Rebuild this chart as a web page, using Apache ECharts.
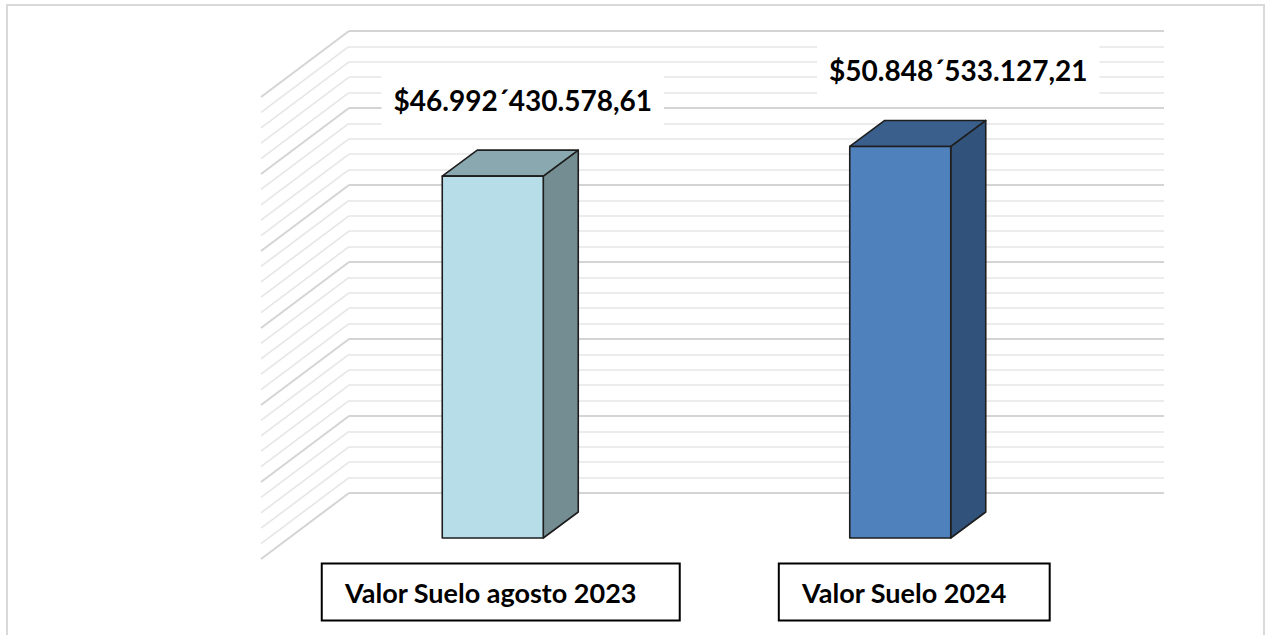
<!DOCTYPE html>
<html>
<head>
<meta charset="utf-8">
<script src="https://cdn.jsdelivr.net/npm/echarts@6/dist/echarts.min.js"></script>
<style>
  html, body { margin: 0; padding: 0; background: #fff; }
  #chart { width: 1272px; height: 635px; }
</style>
</head>
<body>
<div id="chart"></div>
<script>
// datos
const categories = ['Valor Suelo agosto 2023', 'Valor Suelo 2024']
const values = [46992430578.61, 50848533127.21]
const valueLabels = ['$46.992´430.578,61', '$50.848´533.127,21']

// eje (pared del fondo)
const axisMax = 60000000000
const majorStep = 10000000000
const minorSplit = 5

// estilos
const faceColors = [
  { front: '#b7dee8', top: '#8aa8af', side: '#748d92' },
  { front: '#4f81bd', top: '#3b5f8c', side: '#31527a' },
]
const BAR_W = 101
const FRONT = [-60, 45] // desplazamiento de la cara frontal respecto a la pared
const DEPTH = [35, -26] // profundidad de la barra
const WALL_DEPTH = [-88, 66] // pared lateral
const LABEL_SHIFT = [30, 58]
const CAT_SHIFT = [8, 14]
const LABEL_FONT = 'bold 28px Lato'
const CAT_FONT = 'bold 27px Lato'

const chart = echarts.init(document.getElementById('chart'), null, { renderer: 'svg' })

// ticks de la pared lateral
const wallTicks = []
const minorStep = majorStep / minorSplit
for (let t = 0; t <= axisMax; t += minorStep) wallTicks.push([0, t])

const renderWall = (params, api) => {
  const t = api.value(1)
  const y = api.coord([0, t])[1]
  const x = params.coordSys.x
  const major = t % majorStep === 0
  return {
    type: 'line',
    shape: { x1: x, y1: y, x2: x + WALL_DEPTH[0], y2: y + WALL_DEPTH[1] },
    style: { stroke: major ? '#d4d4d4' : '#e6e6e6', lineWidth: major ? 2 : 1.6 },
  }
}

const renderBar = (params, api) => {
  const ci = api.value(0)
  const v = api.value(1)
  const top = api.coord([ci, v])
  const base = api.coord([ci, 0])
  const x0 = top[0] - BAR_W / 2 + FRONT[0]
  const x1 = x0 + BAR_W
  const yT = top[1] + FRONT[1]
  const yB = base[1] + FRONT[1]
  const [dx, dy] = DEPTH
  const c = faceColors[ci]
  const edge = { stroke: '#1e1e1e', lineWidth: 1.6, lineJoin: 'round' }
  return {
    type: 'group',
    children: [
      {
        type: 'polygon',
        shape: { points: [[x1, yT], [x1 + dx, yT + dy], [x1 + dx, yB + dy], [x1, yB]] },
        style: Object.assign({ fill: c.side }, edge),
      },
      {
        type: 'polygon',
        shape: { points: [[x0, yT], [x0 + dx, yT + dy], [x1 + dx, yT + dy], [x1, yT]] },
        style: Object.assign({ fill: c.top }, edge),
      },
      {
        type: 'rect',
        shape: { x: x0, y: yT, width: BAR_W, height: yB - yT },
        style: Object.assign({ fill: c.front }, edge),
      },
      {
        type: 'text',
        x: (x0 + x1) / 2 + LABEL_SHIFT[ci],
        y: yT - 76,
        style: {
          text: valueLabels[ci],
          font: LABEL_FONT,
          fill: '#000',
          align: 'center',
          verticalAlign: 'middle',
          backgroundColor: '#fff',
          padding: [20, 12],
        },
      },
      {
        type: 'text',
        x: (x0 + x1) / 2 + CAT_SHIFT[ci],
        y: yB + 54,
        style: {
          text: categories[ci],
          font: CAT_FONT,
          fill: '#000',
          align: 'center',
          verticalAlign: 'middle',
          backgroundColor: '#fff',
          borderColor: '#000',
          borderWidth: 2,
          padding: [14, 42, 14, 22],
        },
      },
    ],
  }
}

const option = {
  animation: false,
  graphic: [
    {
      type: 'rect',
      z: -10,
      shape: { x: 7, y: 5, width: 1257, height: 640 },
      style: { fill: 'none', stroke: '#d9d9d9', lineWidth: 2 },
    },
  ],
  grid: { left: 349, right: 108, top: 31, bottom: 142 },
  xAxis: {
    type: 'category',
    data: categories,
    axisLine: { show: false },
    axisTick: { show: false },
    axisLabel: { show: false },
  },
  yAxis: {
    type: 'value',
    min: 0,
    max: axisMax,
    interval: majorStep,
    axisLine: { show: false },
    axisTick: { show: false },
    axisLabel: { show: false },
    splitLine: { lineStyle: { color: '#d4d4d4', width: 2 } },
    minorTick: { show: false, splitNumber: minorSplit },
    minorSplitLine: { show: true, lineStyle: { color: '#e6e6e6', width: 1.6 } },
  },
  series: [
    {
      type: 'custom',
      name: 'pared',
      silent: true,
      clip: false,
      renderItem: renderWall,
      data: wallTicks,
      z: 1,
    },
    {
      type: 'custom',
      name: 'Valor Suelo',
      clip: false,
      renderItem: renderBar,
      data: values.map((v, i) => [i, v]),
      z: 5,
    },
  ],
}

chart.setOption(option)
window.addEventListener('resize', () => chart.resize())
</script>
</body>
</html>
